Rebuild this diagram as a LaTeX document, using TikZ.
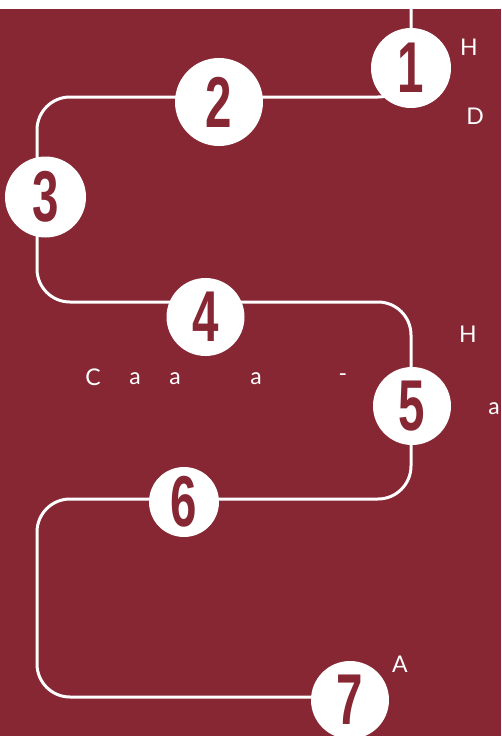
\documentclass[tikz,border=0pt]{standalone}
\usepackage{fontspec}
\setmainfont{Lato}
\newfontfamily\numfont{Liberation Sans}
\definecolor{bgred}{HTML}{862733}
\begin{document}
\begin{tikzpicture}[x=1pt,y=-1pt,
  snake/.style={draw=white,line width=3pt,rounded corners=33pt},
  numcirc/.style={circle,fill=white,inner sep=0pt},
  numtxt/.style={text=bgred,font=\numfont\bfseries\fontsize{72}{72}\selectfont},
  lbl/.style={text=white,font=\fontsize{23}{23}\selectfont,inner sep=0pt}]
\fill[bgred] (0,0) rectangle (501,736);
\fill[white] (0,0) rectangle (501,9);
\useasboundingbox (0,0) rectangle (501,736);
\coordinate (s0) at (411,9);
\coordinate (k1) at (411,97);
\coordinate (k2) at (37,97);
\coordinate (k3) at (37,302);
\coordinate (k4) at (411,302);
\coordinate (k5) at (411,499);
\coordinate (k6) at (37,499);
\coordinate (k7) at (37,697);
\coordinate (s8) at (350,697);
\draw[snake] (s0) -- (k1) -- (k2) -- (k3) -- (k4) -- (k5) -- (k6) -- (k7) -- (s8);
\node[numcirc,minimum size=80pt] (c1) at (411,68) {};
\node[numcirc,minimum size=88pt] (c2) at (219,102) {};
\node[numcirc,minimum size=81pt] (c3) at (45.5,197) {};
\node[numcirc,minimum size=78pt] (c4) at (205.5,317) {};
\node[numcirc,minimum size=78pt] (c5) at (412,406) {};
\node[numcirc,minimum size=70pt] (c6) at (184,502) {};
\node[numcirc,minimum size=78pt] (c7) at (350,700) {};
\foreach \n in {1,...,7}{
  \node[numtxt,xscale=0.66] at (c\n) {\n};
}
\node[lbl] (t1) at (469,47) {H};
\node[lbl] (t2) at (475,116) {D};
\node[lbl] (t3) at (468,334) {H};
\node[lbl] (t4a) at (93,377) {C};
\node[lbl] (t4b) at (135,379) {a};
\node[lbl] (t4c) at (175,379) {a};
\node[lbl] (t4d) at (256,379) {a};
\node[lbl] (t4e) at (343,378) {-};
\node[lbl] (t5) at (494,409) {a};
\node[lbl] (t6) at (400,664) {A};
\end{tikzpicture}
\end{document}
